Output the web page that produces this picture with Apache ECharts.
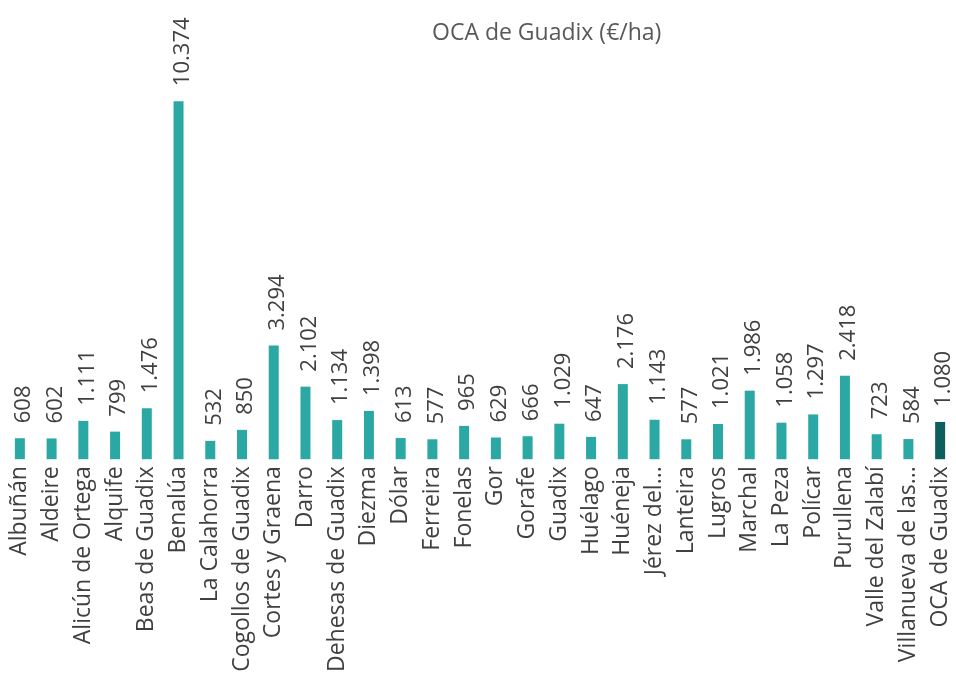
<!DOCTYPE html>
<html><head><meta charset="utf-8">
<script src="https://cdn.jsdelivr.net/npm/echarts@6/dist/echarts.min.js"></script>
<style>html,body{margin:0;padding:0;background:#fff}#c{width:956px;height:675px}</style>
</head><body><div id="c"></div>
<script>
const categories = ["Albuñán","Aldeire","Alicún de Ortega","Alquife","Beas de Guadix","Benalúa","La Calahorra","Cogollos de Guadix","Cortes y Graena","Darro","Dehesas de Guadix","Diezma","Dólar","Ferreira","Fonelas","Gor","Gorafe","Guadix","Huélago","Huéneja","Jérez del...","Lanteira","Lugros","Marchal","La Peza","Polícar","Purullena","Valle del Zalabí","Villanueva de las...","OCA de Guadix"];
const values = [608,602,1111,799,1476,10374,532,850,3294,2102,1134,1398,613,577,965,629,666,1029,647,2176,1143,577,1021,1986,1058,1297,2418,723,584,1080];
const titleText = "OCA de Guadix (€/ha)";
const barColor = "#2BA8A4";
const totalColor = "#0C5F5D";

function fmt(v){ return String(v).replace(/\B(?=(\d{3})+(?!\d))/g, "."); }

const chart = echarts.init(document.getElementById('c'));
chart.setOption({
  animation:false,
  title:{text:titleText,left:427,top:17,textStyle:{fontFamily:'Open Sans',fontSize:23,fontWeight:'normal',color:'#595959'}},
  grid:{left:4,right:-4,top:45,bottom:212,containLabel:false},
  xAxis:{type:'category',data:categories,axisLine:{show:false},axisTick:{show:false},
    axisLabel:{rotate:90,interval:0,margin:7,fontFamily:'Open Sans',fontSize:23,color:'#404040'}},
  yAxis:{type:'value',min:0,max:12000,show:false,splitLine:{show:false}},
  series:[{type:'bar',barWidth:10,
    data:values.map((v,i)=>({value:v,itemStyle:{color:i===values.length-1?totalColor:barColor}})),
    label:{show:true,position:'top',rotate:90,align:'left',verticalAlign:'middle',distance:15,offset:[0,4],
      fontFamily:'Open Sans',fontSize:22,color:'#404040',formatter:p=>fmt(p.value)}}]
});
</script></body></html>
